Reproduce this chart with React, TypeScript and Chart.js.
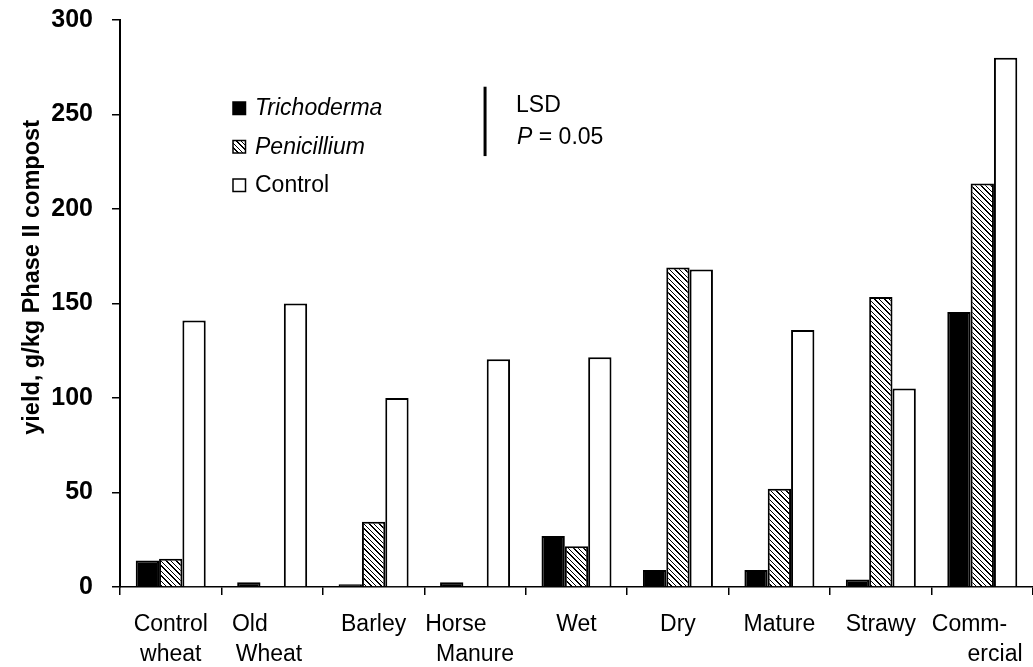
import { useEffect, useRef } from "react";
import { Chart, registerables } from "chart.js";

Chart.register(...registerables);

const FONT = '"Liberation Sans", Arial, Helvetica, sans-serif';

// Substrate categories (padded lines keep the wrapped labels where they sit under each group)
const categories: (string | string[])[] = [
  ["Control", "wheat"],
  ["Old       ", "Wheat "],
  "Barley",
  ["Horse      ", "Manure"],
  "Wet",
  "Dry",
  "Mature",
  "Strawy",
  ["Comm-    ", "    ercial"],
];

// Mushroom yield, g/kg Phase II compost
const trichoderma = [14, 2.5, 1.5, 2.5, 27, 9, 9, 4, 145.5];
const penicillium = [15, 0, 34.5, 0, 21.5, 169, 52, 153.5, 213.5];
const control = [141, 150, 100, 120.5, 121.5, 168, 136, 105, 280];

const seriesNames = ["Trichoderma", "Penicillium", "Control"];

// Least significant difference marker (P = 0.05)
const lsdBase = 228;
const lsdValue = 36.7;

const yTicks = { min: 0, max: 300, step: 50 };

function makeHatch(): CanvasPattern | string {
  const c = document.createElement("canvas");
  c.width = 10;
  c.height = 10;
  const g = c.getContext("2d");
  if (!g) return "#888";
  const img = g.createImageData(10, 10);
  for (let y = 0; y < 10; y++) {
    for (let x = 0; x < 10; x++) {
      const d = (((x - y) % 5) + 5) % 5;
      const dark = d === 0 || (d === 1 && (x + y) % 2 === 0);
      const i = (y * 10 + x) * 4;
      const v = dark ? 0 : 255;
      img.data[i] = v;
      img.data[i + 1] = v;
      img.data[i + 2] = v;
      img.data[i + 3] = 255;
    }
  }
  g.putImageData(img, 0, 0);
  const p = g.createPattern(c, "repeat");
  return p || "#888";
}

export default function App() {
  const ref = useRef<HTMLCanvasElement>(null);

  useEffect(() => {
    if (!ref.current) return;
    const hatch = makeHatch();
    const fills: (string | CanvasPattern)[] = ["#000000", hatch, "#ffffff"];

    const overlay = {
      id: "legendAndLsd",
      afterDraw(chart: any) {
        const { ctx, chartArea, scales } = chart;
        ctx.save();
        ctx.fillStyle = "#000";
        ctx.textBaseline = "alphabetic";
        ctx.textAlign = "left";

        // legend
        const boxX = chartArea.left + 113;
        const textX = chartArea.left + 135;
        const baselines = [115, 153.5, 192];
        seriesNames.forEach((name, i) => {
          const b = baselines[i];
          ctx.fillStyle = fills[i];
          ctx.fillRect(boxX, b - 13, 12.5, 12.5);
          ctx.lineWidth = 1.5;
          ctx.strokeStyle = "#000";
          ctx.strokeRect(boxX, b - 13, 12.5, 12.5);
          ctx.fillStyle = "#000";
          ctx.font = `${i < 2 ? "italic " : ""}23px ${FONT}`;
          ctx.fillText(name, textX, b);
        });

        // LSD bar
        const lx = scales.x.getPixelForValue(3) + 10;
        const yTop = scales.y.getPixelForValue(lsdBase + lsdValue);
        const yBot = scales.y.getPixelForValue(lsdBase);
        ctx.beginPath();
        ctx.lineWidth = 3;
        ctx.strokeStyle = "#000";
        ctx.moveTo(lx, yTop);
        ctx.lineTo(lx, yBot);
        ctx.stroke();

        ctx.font = `23px ${FONT}`;
        ctx.fillText("LSD", lx + 31, yTop + 25);
        ctx.font = `italic 23px ${FONT}`;
        ctx.fillText("P", lx + 32, yTop + 57);
        const pw = ctx.measureText("P").width;
        ctx.font = `23px ${FONT}`;
        ctx.fillText(" = 0.05", lx + 32 + pw, yTop + 57);
        ctx.restore();
      },
    };

    const chart = new Chart(ref.current, {
      type: "bar",
      data: {
        labels: categories,
        datasets: [trichoderma, penicillium, control].map((data, i) => ({
          label: seriesNames[i],
          data,
          backgroundColor: fills[i] as any,
          borderColor: "#000",
          borderWidth: 2,
          categoryPercentage: 0.69,
          barPercentage: 1,
        })),
      },
      options: {
        animation: false,
        responsive: true,
        maintainAspectRatio: false,
        layout: { padding: { top: 20, right: 0, bottom: 0, left: 0 } },
        plugins: {
          legend: { display: false },
          tooltip: { enabled: false },
        },
        scales: {
          x: {
            offset: true,
            grid: {
              display: true,
              offset: true,
              drawOnChartArea: false,
              drawTicks: true,
              tickLength: 8,
              color: "#000",
              lineWidth: 1.5,
            },
            border: { display: true, color: "#000", width: 1.5 },
            ticks: {
              color: "#000",
              font: { family: FONT, size: 23, lineHeight: 1.3 },
              padding: 15,
              maxRotation: 0,
              autoSkip: false,
            },
            afterFit: (s: any) => {
              s.height = 80;
              s.paddingLeft = 0;
              s.paddingRight = 0;
            },
          },
          y: {
            min: yTicks.min,
            max: yTicks.max,
            ticks: {
              stepSize: yTicks.step,
              color: "#000",
              font: { family: FONT, size: 25, weight: "bold" },
              padding: 19,
            },
            grid: {
              drawOnChartArea: false,
              drawTicks: true,
              tickLength: 8,
              color: "#000",
              lineWidth: 1.5,
            },
            border: { display: true, color: "#000", width: 2 },
            title: {
              display: true,
              text: "        yield, g/kg Phase II compost",
              color: "#000",
              font: { family: FONT, size: 23.5, weight: "bold" },
              padding: { top: 18, bottom: 0 },
            },
            afterFit: (s: any) => {
              s.width = 120;
              s.paddingTop = 0;
              s.paddingBottom = 0;
            },
          },
        },
      },
      plugins: [overlay],
    });
    return () => chart.destroy();
  }, []);

  return (
    <div
      style={{
        position: "fixed",
        left: 0,
        top: 0,
        width: 1033,
        height: 667,
        background: "#fff",
      }}
    >
      <canvas ref={ref} />
    </div>
  );
}
